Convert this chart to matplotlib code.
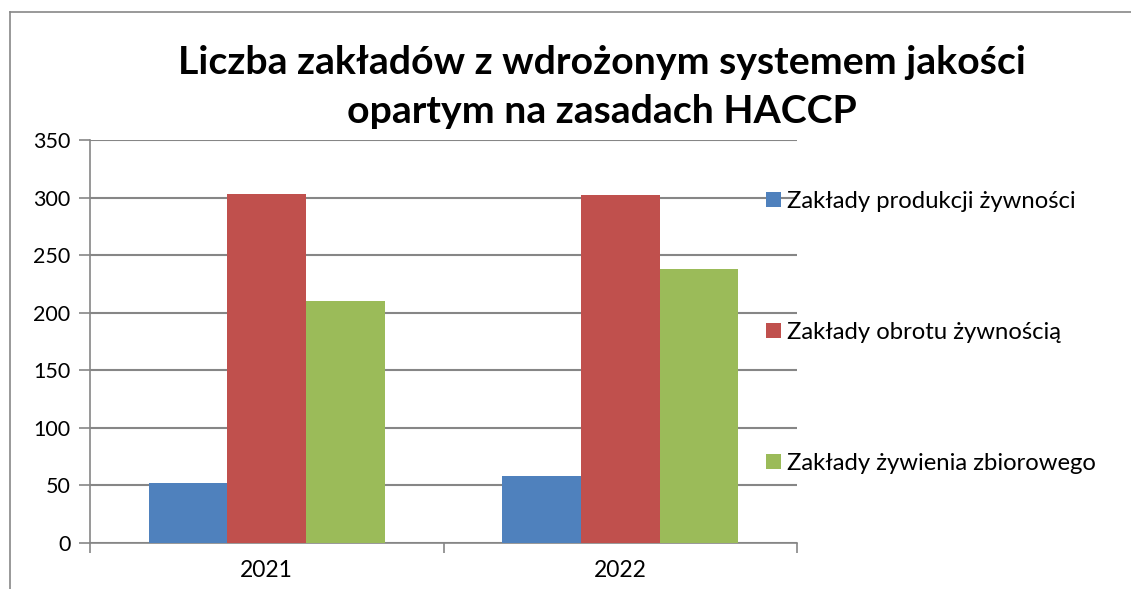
import numpy as np
import matplotlib
matplotlib.use('Agg')
import matplotlib.pyplot as plt
from matplotlib.lines import Line2D

plt.rcParams['font.family'] = ['Lato', 'DejaVu Sans']

# data
years = ['2021', '2022']
series = ['Zakłady produkcji żywności', 'Zakłady obrotu żywnością', 'Zakłady żywienia zbiorowego']
produkcja = [52, 58]
obrot = [303, 302]
zywienie = [210, 238]
colors = ['#4F81BD', '#C0504D', '#9BBB59']

fig = plt.figure(figsize=(11.31, 5.89), dpi=100)
ax = fig.add_axes([90/1131, 1-543/589, (797-90)/1131, (543-140)/589])

# outer chart frame (cut off at right and bottom)
fig.add_artist(Line2D([10/1131, 1], [1-12/589, 1-12/589], color='#888888', lw=1.2))
fig.add_artist(Line2D([10/1131, 10/1131], [0, 1-12/589], color='#888888', lw=1.2))

x = np.arange(len(years))
w = 1/4.5  # gap width 150%
for i, vals in enumerate([produkcja, obrot, zywienie]):
    ax.bar(x + (i-1)*w, vals, width=w, color=colors[i], label=series[i], zorder=3)

ax.set_xlim(-0.5, 1.5)
ax.set_ylim(0, 350)
ax.set_yticks(range(0, 351, 50))
ax.yaxis.grid(True, color='#868686', lw=1.5, zorder=0)
ax.set_xticks(x)
ax.set_xticklabels(years)
ax.set_xticks([-0.5, 0.5, 1.5], minor=True)
ax.tick_params(axis='x', which='major', length=0, pad=12, labelsize=16.5)
ax.tick_params(axis='x', which='minor', length=7, color='#868686', width=1.2)
ax.tick_params(axis='y', length=8, color='#868686', width=1.2, labelsize=15.5, pad=6)
for s in ['top', 'right']:
    ax.spines[s].set_visible(False)
for s in ['left', 'bottom']:
    ax.spines[s].set_color('#868686')
    ax.spines[s].set_linewidth(1.2)

fig.text(0.532, 1-87/589, 'Liczba zakładów z wdrożonym systemem jakości\nopartym na zasadach HACCP',
         ha='center', va='center', fontsize=28.3, fontweight='bold', linespacing=1.5)

ax.legend(loc='upper left', bbox_to_anchor=(766/1131, 1-191/589), bbox_transform=fig.transFigure,
          frameon=False, fontsize=17.2, handlelength=0.62, handleheight=0.62,
          handletextpad=0.25, labelspacing=4.6, borderaxespad=0, borderpad=0)

fig.savefig('out.png', dpi=100)
